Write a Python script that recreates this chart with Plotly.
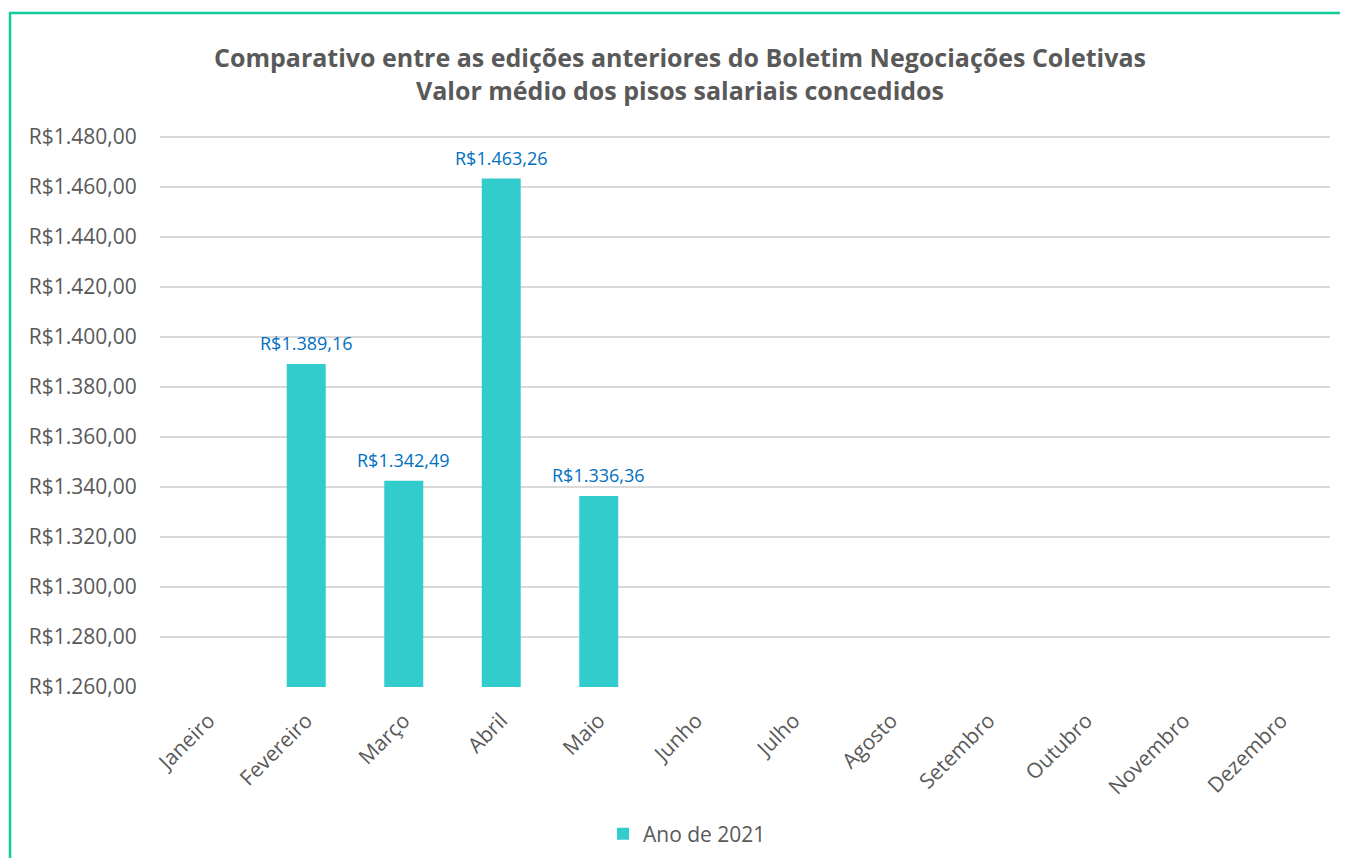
import plotly.graph_objects as go

months = ["Janeiro", "Fevereiro", "Março", "Abril", "Maio", "Junho", "Julho",
          "Agosto", "Setembro", "Outubro", "Novembro", "Dezembro"]
values_2021 = [None, 1389.16, 1342.49, 1463.26, 1336.36, None, None,
               None, None, None, None, None]
y_ticks = [1260, 1280, 1300, 1320, 1340, 1360, 1380, 1400, 1420, 1440, 1460, 1480]
y_tick_labels = ["R$1.260,00", "R$1.280,00", "R$1.300,00", "R$1.320,00", "R$1.340,00",
                 "R$1.360,00", "R$1.380,00", "R$1.400,00", "R$1.420,00", "R$1.440,00",
                 "R$1.460,00", "R$1.480,00"]


def brl(v):
    if v is None:
        return ""
    s = f"{v:,.2f}"
    s = s.replace(",", "X").replace(".", ",").replace("X", ".")
    return "R$" + s


labels = [brl(v) for v in values_2021]

FONT = "Open Sans, Noto Sans, sans-serif"
OFF = 8  # page body margin
W, H = 1332, 850
L, R, T, B = 160 - OFF, 10, 125, 171
pw = W - L - R
ph = H - T - B


def px_x(x):
    return (x - OFF - L) / pw


def px_y(y):
    return ((H - B) - (y - OFF)) / ph


fig = go.Figure()
fig.add_trace(go.Bar(
    x=months, y=values_2021, name="Ano de 2021",
    marker=dict(color="#33CCCC", line=dict(width=0)),
    cliponaxis=True,
))

annotations = []
for m, v, t in zip(months, values_2021, labels):
    if v is None:
        continue
    annotations.append(dict(
        x=m, y=v, xref="x", yref="y", text=t, showarrow=False,
        yanchor="bottom", yshift=7,
        font=dict(color="#0070C0", size=18, family=FONT),
    ))

fig.update_layout(
    width=W, height=H,
    margin=dict(l=L, r=R, t=T, b=B),
    paper_bgcolor="white", plot_bgcolor="white",
    font=dict(family=FONT, color="#595959", size=18),
    bargap=0.6,
    annotations=annotations,
    title=dict(
        text="<b>Comparativo entre as edições anteriores do Boletim Negociações Coletivas<br>Valor médio dos pisos salariais concedidos</b>",
        x=px_x(680), xref="paper", xanchor="center",
        y=1 - (67 - OFF) / H, yanchor="middle",
        font=dict(size=25, color="#595959", family=FONT),
    ),
    showlegend=True,
    legend=dict(
        orientation="h", x=px_x(603), xanchor="left",
        yref="container", y=1 - (834 - OFF) / H, yanchor="middle",
        font=dict(size=21, color="#595959"),
    ),
    xaxis=dict(
        tickangle=-45, showgrid=False, showline=False,
        ticks="outside", ticklen=12, tickcolor="rgba(0,0,0,0)",
        tickfont=dict(size=21, color="#595959"),
        automargin=False,
    ),
    yaxis=dict(
        range=[1260, 1481.5], tickvals=y_ticks, ticktext=y_tick_labels,
        showgrid=True, gridcolor="#D9D9D9", gridwidth=1.5,
        zeroline=False, showline=False,
        ticks="outside", ticklen=18, tickcolor="rgba(0,0,0,0)",
        tickfont=dict(size=21, color="#595959"),
        automargin=False,
    ),
    shapes=[dict(
        type="rect", xref="paper", yref="paper",
        x0=px_x(10), x1=1.3,
        y0=-1.0, y1=px_y(13),
        line=dict(color="#0FCC99", width=2.5), fillcolor="rgba(0,0,0,0)",
        layer="below",
    )],
)

fig.write_html("out.html")
